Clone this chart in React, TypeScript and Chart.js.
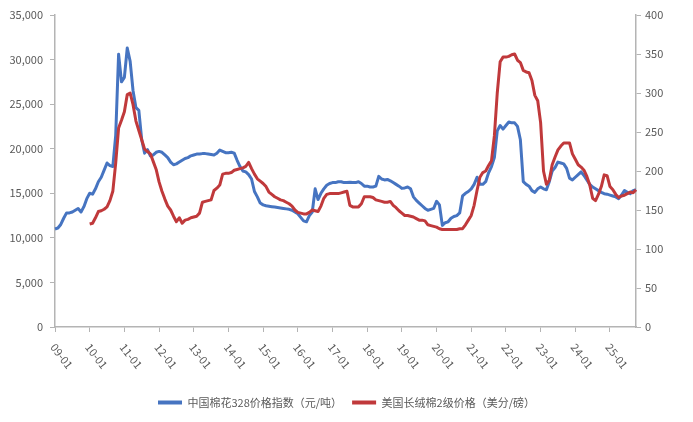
import React, { useEffect, useRef } from "react";
import { Chart, registerables } from "chart.js";

Chart.register(...registerables);

// Monthly series, Jan 2009 – Oct 2025
const years = [
  "09", "10", "11", "12", "13", "14", "15", "16", "17",
  "18", "19", "20", "21", "22", "23", "24", "25",
];
const lastYearMonths = 10;

const monthLabels: string[] = [];
years.forEach((yy, k) => {
  const n = k === years.length - 1 ? lastYearMonths : 12;
  for (let m = 1; m <= n; m++) monthLabels.push(`${yy}-${String(m).padStart(2, "0")}`);
});

// Year tick labels shown under the axis
const yearTickLabels = years.map((yy) => `${yy}-01`);

// 中国棉花328价格指数（元/吨）
const cnCotton328 = [
  11000, 11100, 11500, 12200, 12800, 12800, 12900, 13100, 13300, 12900, 13500, 14400,
  15000, 14900, 15500, 16300, 16800, 17600, 18400, 18100, 18000, 21500, 30600, 27500,
  28000, 31300, 29800, 26500, 24600, 24300, 21000, 19500, 19900, 19200, 19300, 19600,
  19700, 19600, 19300, 19000, 18500, 18200, 18300, 18500, 18700, 18900, 19000, 19200,
  19300, 19400, 19400, 19450, 19450, 19400, 19350, 19300, 19500, 19850, 19700, 19550,
  19550, 19600, 19500, 18700, 18000, 17500, 17400, 17100, 16600, 15200, 14600, 13900,
  13700, 13600, 13550, 13500, 13450, 13400, 13350, 13300, 13250, 13200, 13100, 12900,
  12700, 12300, 11900, 11800, 12500, 12900, 15500, 14300, 15000, 15500, 15900, 16100,
  16200, 16200, 16300, 16300, 16200, 16200, 16250, 16200, 16200, 16300, 16100, 15800,
  15800, 15700, 15700, 15800, 16900, 16600, 16500, 16550, 16400, 16200, 16000, 15800,
  15550, 15600, 15700, 15500, 14600, 14200, 13900, 13600, 13300, 13100, 13200, 13300,
  14100, 13700, 11400, 11700, 11800, 12200, 12400, 12500, 12800, 14700, 15000, 15200,
  15500, 16000, 16800, 16000, 16000, 16300, 17300, 18000, 19000, 22000, 22600, 22200,
  22600, 23000, 22900, 22900, 22500, 21000, 16300, 16000, 15800, 15300, 15100, 15500,
  15700, 15500, 15400, 16300, 17500, 17900, 18500, 18400, 18300, 17800, 16700, 16500,
  16800, 17100, 17400, 17000, 16500, 16000, 15700, 15500, 15300, 15100, 14950, 14900,
  14800, 14700, 14600, 14400, 14800, 15300, 15100, 14950, 15300, 15400,
];

// 美国长绒棉2级价格（美分/磅）
const usPimaGrade2 = [
  null, null, null, null, null, null, null, null, null, null, null, null,
  132, 133, 140, 148, 149, 151, 154, 162, 174, 210, 255, 265,
  276, 298, 300, 285, 264, 252, 240, 228, 225, 222, 212, 202,
  186, 174, 164, 155, 150, 142, 135, 140, 133, 137, 138, 140,
  141, 142, 146, 160, 161, 162, 163, 175, 178, 182, 196, 197,
  197, 198, 201, 202, 203, 204, 206, 211, 203, 196, 190, 187,
  184, 180, 173, 170, 167, 165, 163, 162, 160, 158, 155, 150,
  147, 146, 145, 145, 147, 150, 149, 148, 155, 165, 170, 171,
  171, 171, 171, 172, 173, 174, 156, 154, 154, 154, 158, 167,
  167, 167, 166, 163, 162, 161, 160, 160, 161, 156, 153, 149,
  146, 143, 143, 142, 141, 139, 137, 137, 136, 131, 130, 129,
  128, 126, 125, 125, 125, 125, 125, 125, 126, 126, 131, 137,
  143, 156, 175, 192, 198, 200, 207, 213, 245, 300, 340, 346,
  346, 347, 349, 350, 342, 339, 329, 327, 326, 316, 297, 290,
  262, 200, 183, 188, 208, 218, 227, 232, 236, 236, 236, 222,
  215, 208, 205, 201, 193, 182, 165, 162, 170, 180, 195, 194,
  180, 176, 170, 166, 168, 169, 171, 173, 172, 176,
];

const seriesNames = ["中国棉花328价格指数（元/吨）", "美国长绒棉2级价格（美分/磅）"];
const seriesColors = ["#4674C1", "#C0393B"];

const AXIS_COLOR = "#b4b4b4";
const TEXT_COLOR = "#595959";
const FONT_FAMILY = "'Noto Sans CJK SC', 'Liberation Sans', sans-serif";

const yearLabelsPlugin = {
  id: "yearLabels",
  afterDraw(chart: any) {
    const xs = chart.scales.x;
    const ctx = chart.ctx;
    ctx.save();
    ctx.font = `11px ${FONT_FAMILY}`;
    ctx.fillStyle = TEXT_COLOR;
    ctx.textAlign = "left";
    ctx.textBaseline = "middle";
    yearTickLabels.forEach((lab, k) => {
      const px = xs.getPixelForValue(k * 12);
      ctx.save();
      ctx.translate(px - 2, xs.top + 18);
      ctx.rotate((52 * Math.PI) / 180);
      ctx.fillText(lab, 0, 0);
      ctx.restore();
    });
    ctx.restore();
  },
};

export default function App() {
  const canvasRef = useRef<HTMLCanvasElement | null>(null);

  useEffect(() => {
    document.body.style.margin = "0";
    const canvas = canvasRef.current;
    if (!canvas) return;

    const chart = new Chart(canvas, {
      type: "line",
      data: {
        labels: monthLabels,
        datasets: [
          {
            label: seriesNames[0],
            data: cnCotton328,
            yAxisID: "y",
            borderColor: seriesColors[0],
            backgroundColor: seriesColors[0],
            borderWidth: 3,
            pointRadius: 0,
            tension: 0,
            borderJoinStyle: "round",
            order: 1,
          },
          {
            label: seriesNames[1],
            data: usPimaGrade2,
            yAxisID: "y1",
            borderColor: seriesColors[1],
            backgroundColor: seriesColors[1],
            borderWidth: 3,
            pointRadius: 0,
            tension: 0,
            borderJoinStyle: "round",
            spanGaps: false,
            order: 0,
          },
        ],
      },
      options: {
        animation: false,
        responsive: false,
        maintainAspectRatio: false,
        layout: { padding: { top: 15, left: 0, right: 0, bottom: 4 } },
        plugins: {
          tooltip: { enabled: false },
          legend: {
            position: "bottom",
            labels: {
              boxWidth: 24,
              boxHeight: 4,
              padding: 10,
              color: TEXT_COLOR,
              font: { size: 11, family: FONT_FAMILY },
              generateLabels: (c: any) =>
                Chart.defaults.plugins.legend.labels
                  .generateLabels(c)
                  .map((l: any) => ({ ...l, lineWidth: 0, fillStyle: l.strokeStyle }))
                  .sort((a: any, b: any) => a.datasetIndex - b.datasetIndex),
            },
          },
        },
        scales: {
          x: {
            type: "category",
            offset: false,
            afterFit: (s: any) => {
              s.height = 60;
            },
            grid: {
              drawOnChartArea: false,
              drawTicks: true,
              tickLength: 5,
              color: (ctx: any) => (ctx.index % 12 === 0 ? AXIS_COLOR : "rgba(0,0,0,0)"),
            },
            border: { display: true, color: AXIS_COLOR, width: 1.5 },
            ticks: { display: false, autoSkip: false },
          },
          y: {
            position: "left",
            min: 0,
            max: 35000,
            afterFit: (s: any) => {
              s.width = 55;
            },
            grid: { drawOnChartArea: false, tickLength: 5, color: AXIS_COLOR },
            border: { display: true, color: AXIS_COLOR, width: 1.5 },
            ticks: {
              stepSize: 5000,
              padding: 7,
              color: TEXT_COLOR,
              font: { size: 11, family: FONT_FAMILY },
              callback: (v: any) => Number(v).toLocaleString("en-US"),
            },
          },
          y1: {
            position: "right",
            min: 0,
            max: 400,
            afterFit: (s: any) => {
              s.width = 57;
            },
            grid: { drawOnChartArea: false, tickLength: 5, color: AXIS_COLOR },
            border: { display: true, color: AXIS_COLOR, width: 1.5 },
            ticks: {
              stepSize: 50,
              padding: 4,
              color: TEXT_COLOR,
              font: { size: 11, family: FONT_FAMILY },
            },
          },
        },
      },
      plugins: [yearLabelsPlugin],
    } as any);

    return () => chart.destroy();
  }, []);

  return (
    <div style={{ width: 693, height: 422 }}>
      <canvas ref={canvasRef} width={693} height={422} style={{ width: 693, height: 422 }} />
    </div>
  );
}
